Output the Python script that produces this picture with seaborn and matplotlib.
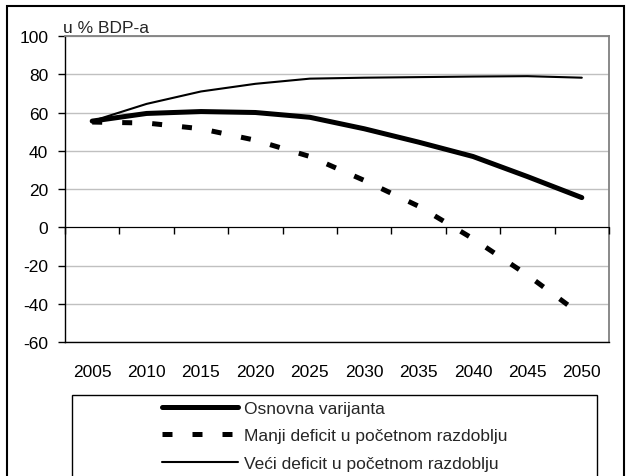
import numpy as np
import pandas as pd
import seaborn as sns
import matplotlib.pyplot as plt
from matplotlib.patches import Rectangle

# Data (u % BDP-a)
years = ['2005', '2010', '2015', '2020', '2025', '2030', '2035', '2040', '2045', '2050']
osnovna = [55.5, 59.5, 60.5, 60.0, 57.5, 51.5, 44.5, 37.0, 26.5, 15.5]
manji = [55.0, 54.5, 51.5, 45.5, 37.0, 24.5, 11.0, -6.0, -25.0, -46.0]
veci = [55.5, 64.5, 71.0, 75.0, 77.7, 78.2, 78.5, 78.8, 79.0, 78.2]
labels = ['Osnovna varijanta', 'Manji deficit u početnom razdoblju',
          'Veći deficit u početnom razdoblju']

sns.set_style('white')
plt.rcParams['font.family'] = ['Liberation Sans', 'DejaVu Sans']
plt.rcParams['axes.unicode_minus'] = False
fs = 12.5

W, H = 627, 477
fig = plt.figure(figsize=(W / 100, H / 100), dpi=100)
ax = fig.add_axes([65 / W, 1 - 343 / H, (609 - 65) / W, (343 - 37) / H])

pos = np.arange(len(years))
sns.lineplot(x=pos, y=osnovna, ax=ax, color='black', lw=3.6, label=labels[0])
sns.lineplot(x=pos, y=manji, ax=ax, color='black', lw=3.6,
             linestyle=(0, (2, 4)), label=labels[1])
sns.lineplot(x=pos, y=veci, ax=ax, color='black', lw=1.5, label=labels[2])

ax.set_xlim(-0.5, len(years) - 0.5)
ax.set_ylim(-60, 100)
ax.set_yticks(range(-60, 101, 20))
ax.set_xticks(pos, years)
ax.yaxis.grid(True, color='#c0c0c0', lw=1)
ax.tick_params(axis='y', left=True, length=5, width=1, direction='out', pad=7,
               labelsize=fs, colors='black')
ax.tick_params(axis='x', length=0, pad=16, labelsize=fs, colors='black')
for s in ['left', 'bottom']:
    ax.spines[s].set_color('black')
    ax.spines[s].set_linewidth(1)
for s in ['top', 'right']:
    ax.spines[s].set_color('#808080')
    ax.spines[s].set_linewidth(1.3)

# category axis crossing at zero, with separator ticks
ax2 = ax.twiny()
ax2.set_xlim(ax.get_xlim())
ax2.spines['bottom'].set_position(('data', 0))
ax2.spines['bottom'].set_color('black')
for s in ['top', 'left', 'right']:
    ax2.spines[s].set_visible(False)
ax2.xaxis.set_ticks_position('bottom')
ax2.set_xticks(np.arange(-0.5, len(years), 1))
ax2.tick_params(axis='x', labelbottom=False, labeltop=False, length=5,
                width=1, direction='out', colors='black')

fig.text(63 / W, 1 - 33 / H, 'u % BDP-a', fontsize=fs, va='baseline', ha='left')

handles, labs = ax.get_legend_handles_labels()
if ax.get_legend() is not None:
    ax.get_legend().remove()
fig.legend(handles, labs, loc='upper center', bbox_to_anchor=(334.5 / W, 1 - 398 / H),
           frameon=False, fontsize=fs, handlelength=4.4, handletextpad=0.3,
           labelspacing=0.72, borderaxespad=0, borderpad=0.2)

# legend frame and outer chart border
fig.add_artist(Rectangle((72 / W, -0.05), 525 / W, (477 - 396) / H + 0.05,
                         transform=fig.transFigure, fill=False, ec='black', lw=1))
fig.add_artist(Rectangle((7 / W, -0.05), 617 / W, 1 - 7 / H + 0.05,
                         transform=fig.transFigure, fill=False, ec='black', lw=1.5))

fig.savefig('out.png', dpi=100)
